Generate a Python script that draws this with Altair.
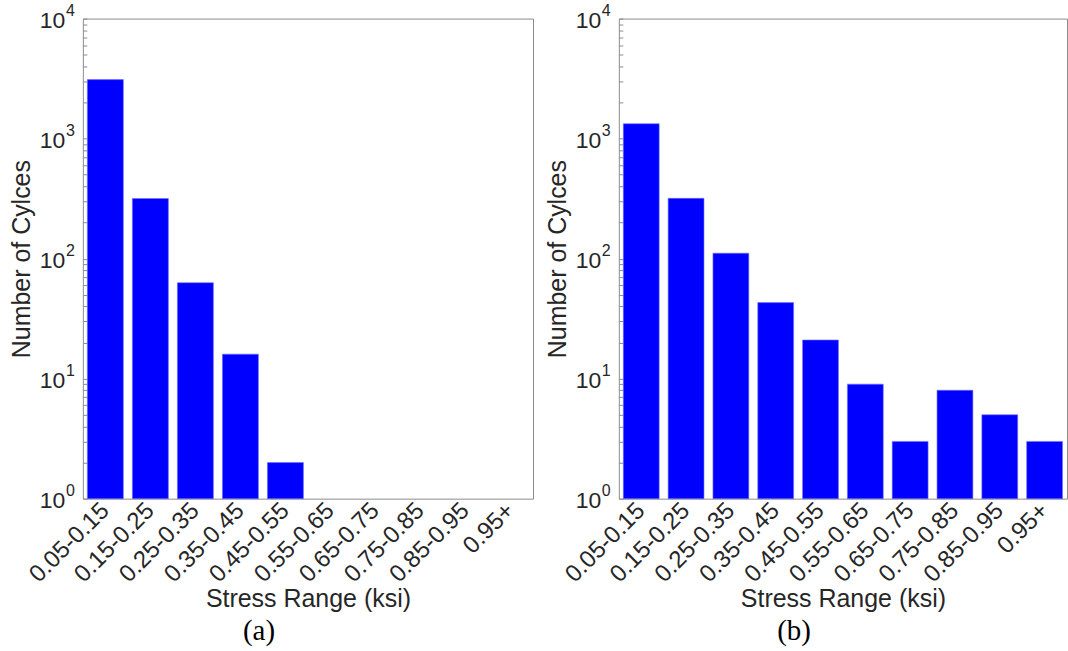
import altair as alt
import pandas as pd

categories = ["0.05-0.15", "0.15-0.25", "0.25-0.35", "0.35-0.45", "0.45-0.55",
              "0.55-0.65", "0.65-0.75", "0.75-0.85", "0.85-0.95", "0.95+"]
cycles_a = [3100, 317, 63, 16, 2, 0, 0, 0, 0, 0]
cycles_b = [1330, 318, 111, 43, 21, 9, 3, 8, 5, 3]
major_ticks = [1, 10, 100, 1000, 10000]
exponents = ["0", "1", "2", "3", "4"]
minor_mult = [2, 3, 4, 5, 6, 7, 8, 9]
tick_values = major_ticks + [m * d for d in major_ticks[:-1] for m in minor_mult]

FONT = "Liberation Sans"
TXT = "#262626"
FRAME = "#8c8c8c"
H = 481


def y_axis():
    return alt.Axis(title="Number of Cylces", values=tick_values,
                    labelExpr="indexof([1,10,100,1000,10000], datum.value) >= 0 ? '10' : ''",
                    ticks=True, tickSize={"expr": "-4"}, tickColor=FRAME, tickWidth=1,
                    domain=False, grid=False, labelPadding=18 + 4, labelOffset=2,
                    labelFont=FONT, labelFontSize=23, labelColor=TXT,
                    titleFont=FONT, titleFontSize=25, titleColor=TXT,
                    titleFontWeight="normal", titlePadding=5)


def panel(values, width, caption):
    df = pd.DataFrame({"range": categories, "cycles": values})
    ydom = alt.Scale(type="log", domain=[1, 10000])

    bars = alt.Chart(df).transform_filter("datum.cycles > 0").mark_bar(
        color="#0000ff", stroke="#6f6fff", strokeWidth=0.6
    ).encode(
        x=alt.X("range:N",
                scale=alt.Scale(domain=categories, paddingInner=0.2, paddingOuter=0.1),
                axis=alt.Axis(title="Stress Range (ksi)", labelAngle=-45, labelAlign="right",
                              labelBaseline="middle", labelPadding=8, ticks=False, domain=False,
                              labelFont=FONT, labelFontSize=24, labelColor=TXT,
                              titleFont=FONT, titleFontSize=25, titleColor=TXT,
                              titleFontWeight="normal", titlePadding=0)),
        y=alt.Y("cycles:Q", scale=ydom, axis=y_axis()),
        y2=alt.datum(1),
    )

    exp_df = pd.DataFrame({"val": major_ticks, "exp": exponents})
    exps = alt.Chart(exp_df).mark_text(
        align="left", baseline="middle", font=FONT, fontSize=16, color=TXT, dy=-8
    ).encode(
        x=alt.value(-17),
        y=alt.Y("val:Q", scale=ydom, axis=y_axis()),
        text="exp:N",
    )

    return alt.layer(bars, exps).properties(
        width=width, height=H,
        title=alt.TitleParams(caption, orient="bottom", font="Liberation Serif", fontSize=29,
                              fontWeight="normal", color="#000000", anchor="middle",
                              dx=-49, offset=5),
    )


chart = alt.hconcat(
    panel(cycles_a, 451, "(a)"),
    panel(cycles_b, 449, "(b)"),
    spacing=10,
).configure_view(stroke=FRAME, strokeWidth=1).properties(
    padding={"left": 8, "top": 1, "right": 0, "bottom": 0}
)

chart.save("out.html", embed_options={"renderer": "svg", "actions": False})
